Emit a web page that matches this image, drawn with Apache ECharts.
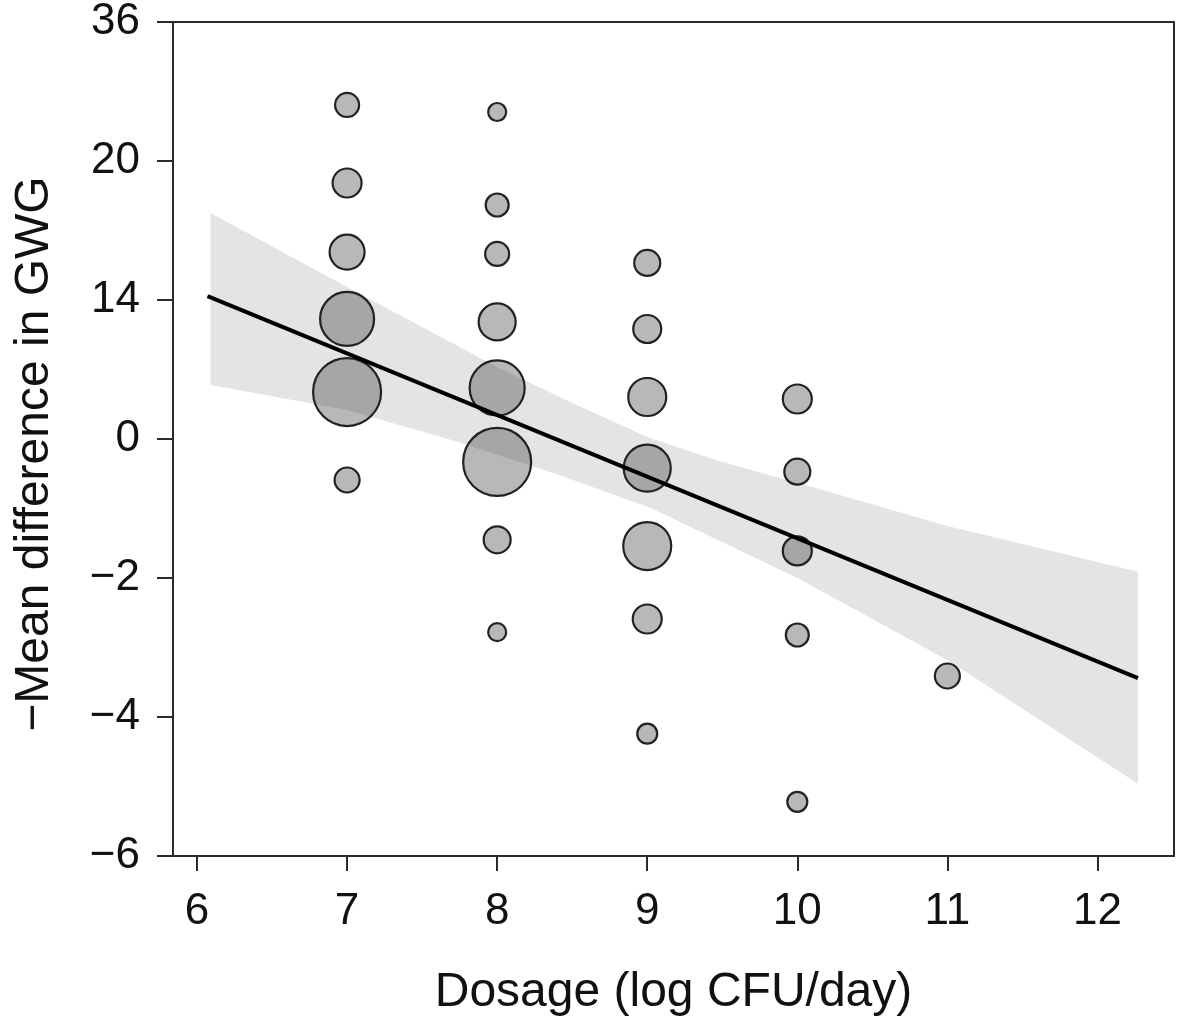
<!DOCTYPE html>
<html>
<head>
<meta charset="utf-8">
<script src="https://cdn.jsdelivr.net/npm/echarts@6/dist/echarts.min.js"></script>
<style>
  html, body { margin: 0; padding: 0; background: #fff; }
  #chart { width: 1181px; height: 1027px; }
</style>
</head>
<body>
<div id="chart"></div>
<script>
// y axis is drawn with evenly spaced, unevenly valued ticks
const yTicks = [-6, -4, -2, 0, 14, 20, 36]
const xTicks = [6, 7, 8, 9, 10, 11, 12]

// studies: dose (log CFU/day), -mean difference, marker diameter (weight)
const dose   = [7, 7, 7, 7, 7, 7,
                8, 8, 8, 8, 8, 8, 8, 8,
                9, 9, 9, 9, 9, 9, 9,
                10, 10, 10, 10, 10,
                11]
const effect = [26.45, 19.05, 16.07, 12.09, 4.73, -0.59,
                25.64, 18.10, 15.99, 11.79, 5.14, -0.33, -1.45, -2.78,
                15.60, 11.08, 4.23, -0.42, -1.54, -2.59, -4.24,
                4.03, -0.47, -1.61, -2.82, -5.22,
                -3.41]
const weight = [24, 29, 35, 54, 68, 25,
                18, 23, 24, 37, 55, 68, 27, 18,
                26, 28, 38, 47, 48, 29, 20,
                29, 26, 29, 23, 20,
                25]

// meta-regression line and confidence band
const fitX = [6.07, 12.27]
const fitY = [14.17, -3.44]
const upperX = [6.09, 7, 7.5, 8, 8.5, 9, 9.5, 10, 11, 12.27]
const upperY = [17.76, 14.56, 11.28, 7.25, 3.63, 0.20, -0.33, -0.63, -1.25, -1.91]
const lowerX = [6.09, 7, 7.69, 8.35, 9.02, 10, 11, 12.27]
const lowerY = [5.44, 2.92, -0.01, -0.47, -0.99, -2.00, -3.18, -4.96]

// value -> position on the piecewise tick scale
function toAxis(v) {
  for (let i = 0; i < yTicks.length - 1; i++) {
    if (v <= yTicks[i + 1] || i === yTicks.length - 2) {
      return i + (v - yTicks[i]) / (yTicks[i + 1] - yTicks[i])
    }
  }
}
const minus = s => String(s).replace('-', '\u2212')

const chart = echarts.init(document.getElementById('chart'))

const points = dose.map((d, i) => [d, toAxis(effect[i]), weight[i]])
const upper = upperX.map((x, i) => [x, toAxis(upperY[i])])
const lower = lowerX.map((x, i) => [x, toAxis(lowerY[i])])

const font = '"Liberation Sans", Arial, Helvetica, sans-serif'

chart.setOption({
  animation: false,
  backgroundColor: '#fff',
  grid: {
    left: 173, top: 22, right: 7, bottom: 171,
    outerBoundsMode: 'none', containLabel: false,
    show: true, borderColor: '#2b2b2b', borderWidth: 2, backgroundColor: 'transparent'
  },
  xAxis: {
    type: 'value', min: 5.84, max: 12.51,
    name: 'Dosage (log CFU/day)', nameLocation: 'middle', nameGap: 113,
    nameTextStyle: { fontFamily: font, fontSize: 48, color: '#111' },
    axisLine: { show: true, lineStyle: { color: '#2b2b2b', width: 2 } },
    axisTick: { show: true, length: 15, lineStyle: { color: '#2b2b2b', width: 2 }, customValues: xTicks },
    axisLabel: { fontFamily: font, fontSize: 44, color: '#111', margin: 34, customValues: xTicks },
    splitLine: { show: false }
  },
  yAxis: {
    type: 'value', min: 0, max: 6, interval: 1,
    name: '\u2212Mean difference in GWG', nameLocation: 'middle', nameGap: 114, nameRotate: 90,
    nameTextStyle: { fontFamily: font, fontSize: 48, color: '#111', padding: [0, 30, 0, 0] },
    axisLine: { show: true, lineStyle: { color: '#2b2b2b', width: 2 } },
    axisTick: { show: true, length: 16, lineStyle: { color: '#2b2b2b', width: 2 } },
    axisLabel: {
      fontFamily: font, fontSize: 44, color: '#111', margin: 33,
      formatter: v => minus(yTicks[Math.round(v)])
    },
    splitLine: { show: false }
  },
  series: [
    {
      type: 'custom',
      z: 1,
      silent: true,
      data: [0],
      renderItem: (params, api) => {
        const top = upper.map(p => api.coord(p))
        const bottom = lower.map(p => api.coord(p)).reverse()
        return {
          type: 'polygon',
          shape: { points: top.concat(bottom) },
          style: { fill: '#e4e4e4' }
        }
      }
    },
    {
      type: 'scatter',
      z: 2,
      data: points,
      symbolSize: p => p[2],
      itemStyle: { color: 'rgba(40,40,40,0.33)', borderColor: '#222', borderWidth: 2.2, opacity: 1 }
    },
    {
      type: 'line',
      z: 3,
      data: fitX.map((x, i) => [x, toAxis(fitY[i])]),
      showSymbol: false,
      lineStyle: { color: '#000', width: 4 }
    }
  ]
})
</script>
</body>
</html>
